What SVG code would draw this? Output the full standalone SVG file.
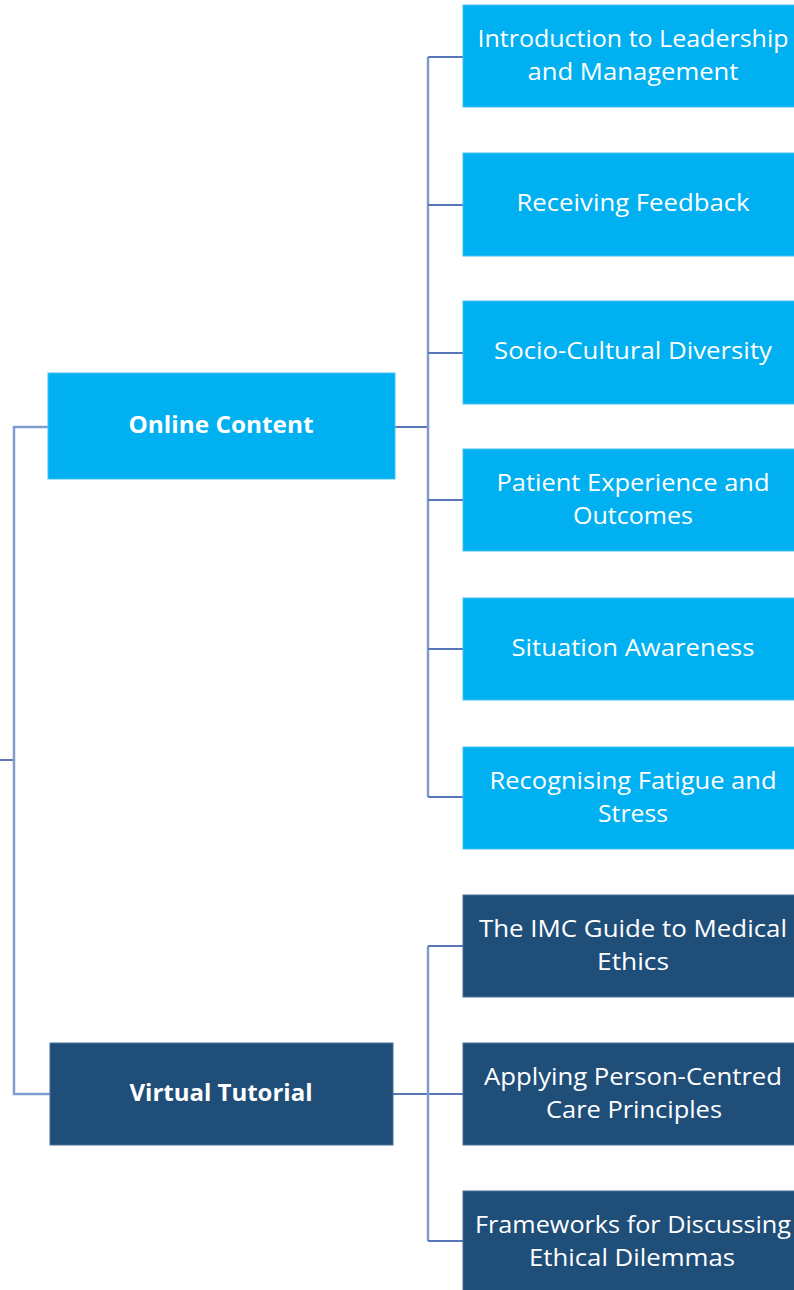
<svg xmlns="http://www.w3.org/2000/svg" width="794" height="1290" viewBox="0 0 794 1290">
  <style>
    .light { fill: #00B0F0; stroke: #3fc3f3; stroke-width: 1; }
    .dark { fill: #1F4E79; stroke: #4a6f96; stroke-width: 1; }
    .t { font-family: "Open Sans", "Noto Sans", "Liberation Sans", sans-serif; font-size: 24px; fill: #ffffff; text-anchor: middle; }
    .b { font-weight: bold; }
    .conn { fill: none; stroke: #5877b8; stroke-width: 2; }
    .trunk { fill: none; stroke: #7f9bd0; stroke-width: 2.5; }
  </style>
  <rect width="794" height="1290" fill="#ffffff"/>
  <g id="connectors">
    <path class="conn" d="M0 760 H14"/>
    <path class="trunk" d="M48 427 H14 V1094 H50"/>
    <path class="conn" d="M395 427 H428"/>
    <path class="trunk" d="M428 57 V797"/>
    <path class="conn" d="M428 57 H463 M428 205 H463 M428 353 H463 M428 500 H463 M428 649 H463 M428 797 H463"/>
    <path class="conn" d="M393 1094 H463"/>
    <path class="trunk" d="M428 946 V1241"/>
    <path class="conn" d="M428 946 H463 M428 1241 H463"/>
  </g>
  <g id="online-content">
    <rect class="light" x="48" y="373" width="347" height="106"/>
    <text class="t b" x="221" y="433" textLength="185" lengthAdjust="spacingAndGlyphs">Online Content</text>
  </g>
  <g id="virtual-tutorial">
    <rect class="dark" x="50" y="1043" width="343" height="102"/>
    <text class="t b" x="221" y="1101" textLength="183" lengthAdjust="spacingAndGlyphs">Virtual Tutorial</text>
  </g>
  <g id="intro-leadership">
    <rect class="light" x="463" y="5" width="345" height="102"/>
    <text class="t" x="633" y="47" textLength="311" lengthAdjust="spacingAndGlyphs">Introduction to Leadership</text>
    <text class="t" x="633" y="80" textLength="211" lengthAdjust="spacingAndGlyphs">and Management</text>
  </g>
  <g id="receiving-feedback">
    <rect class="light" x="463" y="153" width="345" height="103"/>
    <text class="t" x="633" y="211" textLength="233" lengthAdjust="spacingAndGlyphs">Receiving Feedback</text>
  </g>
  <g id="socio-cultural">
    <rect class="light" x="463" y="301" width="345" height="103"/>
    <text class="t" x="633" y="359" textLength="278" lengthAdjust="spacingAndGlyphs">Socio-Cultural Diversity</text>
  </g>
  <g id="patient-experience">
    <rect class="light" x="463" y="449" width="345" height="102"/>
    <text class="t" x="633" y="491" textLength="273" lengthAdjust="spacingAndGlyphs">Patient Experience and</text>
    <text class="t" x="633" y="524" textLength="120" lengthAdjust="spacingAndGlyphs">Outcomes</text>
  </g>
  <g id="situation-awareness">
    <rect class="light" x="463" y="598" width="345" height="102"/>
    <text class="t" x="633" y="656" textLength="243" lengthAdjust="spacingAndGlyphs">Situation Awareness</text>
  </g>
  <g id="fatigue-stress">
    <rect class="light" x="463" y="747" width="345" height="102"/>
    <text class="t" x="633" y="789" textLength="287" lengthAdjust="spacingAndGlyphs">Recognising Fatigue and</text>
    <text class="t" x="633" y="822" textLength="70" lengthAdjust="spacingAndGlyphs">Stress</text>
  </g>
  <g id="imc-guide">
    <rect class="dark" x="463" y="895" width="345" height="102"/>
    <text class="t" x="633" y="937" textLength="308" lengthAdjust="spacingAndGlyphs">The IMC Guide to Medical</text>
    <text class="t" x="633" y="970" textLength="72" lengthAdjust="spacingAndGlyphs">Ethics</text>
  </g>
  <g id="person-centred">
    <rect class="dark" x="463" y="1043" width="345" height="102"/>
    <text class="t" x="633" y="1085" textLength="298" lengthAdjust="spacingAndGlyphs">Applying Person-Centred</text>
    <text class="t" x="634" y="1118" textLength="176" lengthAdjust="spacingAndGlyphs">Care Principles</text>
  </g>
  <g id="ethical-dilemmas">
    <rect class="dark" x="463" y="1191" width="345" height="110"/>
    <text class="t" x="633" y="1233" textLength="316" lengthAdjust="spacingAndGlyphs">Frameworks for Discussing</text>
    <text class="t" x="632" y="1266" textLength="206" lengthAdjust="spacingAndGlyphs">Ethical Dilemmas</text>
  </g>
</svg>
